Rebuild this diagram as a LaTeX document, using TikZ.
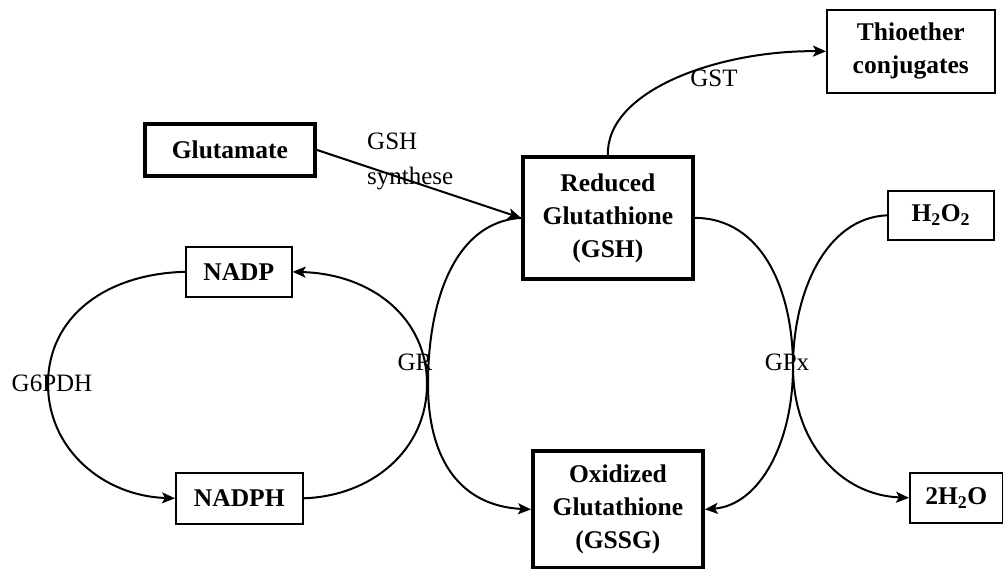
\documentclass[tikz,border=0pt]{standalone}
\usepackage{fontspec}
\setmainfont{Liberation Serif}
\usetikzlibrary{arrows.meta}
\begin{document}
\begin{tikzpicture}[x=1pt,y=-1pt,
  heavybox/.style={draw, line width=3.8pt, inner sep=0pt, align=center,
    font=\fontsize{25.5}{33}\selectfont\bfseries, anchor=north west},
  lightbox/.style={draw, line width=1.6pt, inner sep=0pt, align=center,
    font=\fontsize{25.5}{33}\selectfont\bfseries, anchor=north west},
  enzyme/.style={inner sep=0pt, font=\fontsize{25}{35}\selectfont},
  flow/.style={line width=2pt},
  tip/.style={-{Stealth[length=13pt,width=11pt,inset=3pt]}}]
\useasboundingbox (0,0) rectangle (1003,569);

% metabolite boxes
\node[heavybox, minimum width=170pt, minimum height=52pt] (glu) at (143,122) {Glutamate};
\node[heavybox, minimum width=170pt, minimum height=122pt] (gsh) at (521,155) {Reduced\\Glutathione\\(GSH)};
\node[heavybox, minimum width=170pt, minimum height=117pt] (gssg) at (531,449) {Oxidized\\Glutathione\\(GSSG)};
\node[lightbox, minimum width=168pt, minimum height=83pt] (thio) at (826,9) {Thioether\\conjugates};
\node[lightbox, minimum width=106pt, minimum height=49pt] (hoo) at (887,190) {H\textsubscript{2}O\textsubscript{2}};
\node[lightbox, minimum width=93pt, minimum height=50pt] (water) at (909,472) {2H\textsubscript{2}O};
\node[lightbox, minimum width=106pt, minimum height=50pt] (nadp) at (185,246) {NADP};
\node[lightbox, minimum width=127pt, minimum height=51pt] (nadph) at (175,472) {NADPH};

% points where the paired curves touch
\coordinate (grL) at (427,384);
\coordinate (grR) at (428,384);
\coordinate (gpx) at (793,367);
\coordinate (g6) at (48,384);

% synthesis and conjugation
\draw[flow, tip] (glu.east) -- (gsh.west);
\draw[flow, tip] (gsh.north) .. controls (606,90) and (720,50) .. (thio.west);

% glutathione reductase
\draw[flow, tip] (gsh.west) .. controls (455,222) and (428,300) .. (grR)
  .. controls (428,462) and (462,506) .. (gssg.west);

% NADPH / NADP cycle
\draw[flow, tip] (nadph.east) .. controls (372,496) and (427,450) .. (grL)
  .. controls (427,318) and (372,274) .. (nadp.east);
\draw[flow, tip] (nadp.west) .. controls (104,274) and (48,318) .. (g6)
  .. controls (48,450) and (104,496) .. (nadph.west);

% glutathione peroxidase
\draw[flow, tip] (gsh.east) .. controls (762,218) and (793,290) .. (gpx)
  .. controls (793,442) and (760,505) .. (gssg.east);
\draw[flow, tip] (hoo.west) .. controls (826,218) and (793,292) .. (gpx)
  .. controls (793,442) and (840,495) .. (water.west);

% enzyme labels
\node[enzyme, align=left, anchor=north west] (gshs) at (367,133) {GSH\\synthese};
\node[enzyme] (gst) at (714,78) {GST};
\node[enzyme] (gr) at (415,362) {GR};
\node[enzyme] (gpxl) at (787,362) {GPx};
\node[enzyme] (g6pdh) at (52,383) {G6PDH};
\end{tikzpicture}
\end{document}
